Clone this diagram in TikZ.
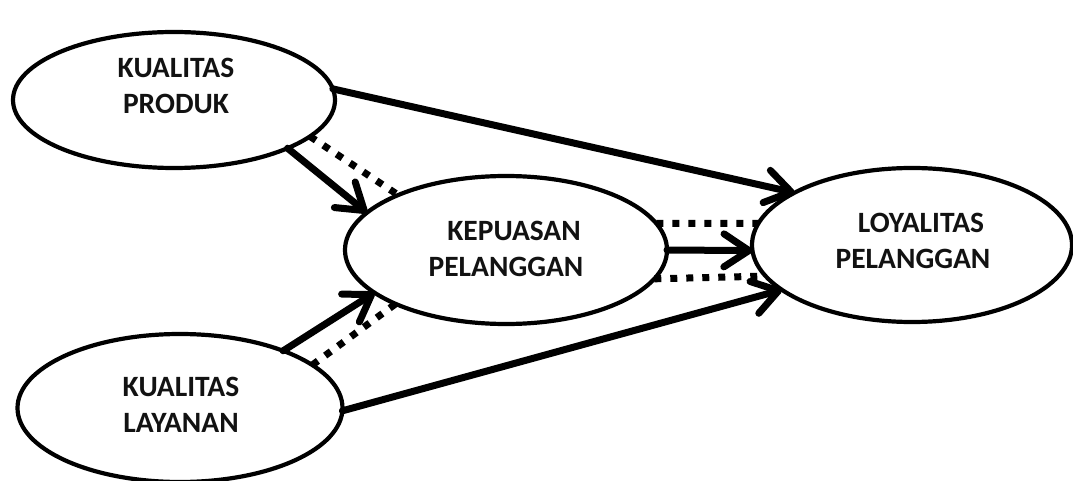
\documentclass[tikz,border=0pt]{standalone}
\usepackage{fontspec}
\setmainfont{Carlito}
\usetikzlibrary{arrows.meta,shapes.geometric}
\begin{document}
\begin{tikzpicture}[x=1pt,y=-1pt,
  var/.style n args={2}{ellipse, draw, line width=4.2pt, inner sep=0pt,
    outer sep=0pt, minimum width=#1pt, minimum height=#2pt},
  lbl/.style={font=\bfseries\fontsize{29.5}{36}\selectfont, align=center,
    inner sep=0pt, text=black!93},
  link/.style={line width=7pt, line cap=round,
    -{Straight Barb[length=25pt,width=33pt,round]}},
  dots/.style={line width=7pt, dash pattern=on 7pt off 9pt}]
\useasboundingbox (0,0) rectangle (1073,481);

% constructs
\node[var={322}{136}] (prod) at (174,100) {};
\node[var={325}{148}] (layn) at (180,408) {};
\node[var={322}{148}] (kep)  at (506,250) {};
\node[var={320}{154}] (loy)  at (912,245) {};

% construct labels
\node[lbl] (prodtxt) at (176,85.5)  {KUALITAS\\PRODUK};
\node[lbl] (layntxt) at (181,404.5) {KUALITAS\\LAYANAN};
\node[lbl] (keptxt)  at (506,248.5) {\hspace*{16pt}KEPUASAN\\PELANGGAN};
\node[lbl] (loytxt)  at (913,240.5) {\hspace*{16pt}LOYALITAS\\PELANGGAN};

% direct effects
\draw[link] (prod.4)    -- (loy.156);
\draw[link] (prod.-23)  -- (kep.165);
\draw[link] (layn.29)   -- (kep.198);
\draw[link] (kep.0)     -- (loy.182);
\draw[link] (layn.-1.5) -- (loy.199);

% mediated paths
\draw[dots] (prod.-15)  -- (kep.153);
\draw[dots] (layn.18)   -- (kep.206);
\draw[dots] (kep.10)    -- (loy.172);
\draw[dots] (kep.-11.5) -- (loy.192.5);
\end{tikzpicture}
\end{document}
